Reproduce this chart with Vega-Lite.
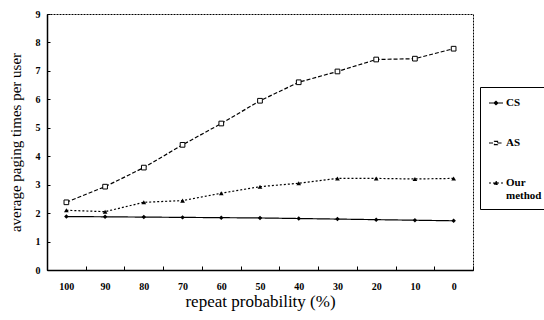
{
  "$schema": "https://vega.github.io/schema/vega-lite/v6.json",
  "width": 426,
  "height": 256,
  "autosize": "none",
  "padding": {"left": 47, "top": 14, "right": 71, "bottom": 50},
  "background": "white",
  "config": {
    "view": {"stroke": "black", "strokeDash": [2, 1], "strokeWidth": 1},
    "font": "Liberation Serif"
  },
  "data": {
    "values": [
      {"p": 100, "series": "CS", "v": 1.88},
      {"p": 90, "series": "CS", "v": 1.87},
      {"p": 80, "series": "CS", "v": 1.86},
      {"p": 70, "series": "CS", "v": 1.85},
      {"p": 60, "series": "CS", "v": 1.84},
      {"p": 50, "series": "CS", "v": 1.83},
      {"p": 40, "series": "CS", "v": 1.81},
      {"p": 30, "series": "CS", "v": 1.79},
      {"p": 20, "series": "CS", "v": 1.77},
      {"p": 10, "series": "CS", "v": 1.75},
      {"p": 0, "series": "CS", "v": 1.73},
      {"p": 100, "series": "AS", "v": 2.38},
      {"p": 90, "series": "AS", "v": 2.93},
      {"p": 80, "series": "AS", "v": 3.6},
      {"p": 70, "series": "AS", "v": 4.4},
      {"p": 60, "series": "AS", "v": 5.15},
      {"p": 50, "series": "AS", "v": 5.95},
      {"p": 40, "series": "AS", "v": 6.6},
      {"p": 30, "series": "AS", "v": 6.98},
      {"p": 20, "series": "AS", "v": 7.4},
      {"p": 10, "series": "AS", "v": 7.43},
      {"p": 0, "series": "AS", "v": 7.78},
      {"p": 100, "series": "Our method", "v": 2.1},
      {"p": 90, "series": "Our method", "v": 2.05},
      {"p": 80, "series": "Our method", "v": 2.38},
      {"p": 70, "series": "Our method", "v": 2.44},
      {"p": 60, "series": "Our method", "v": 2.7},
      {"p": 50, "series": "Our method", "v": 2.93},
      {"p": 40, "series": "Our method", "v": 3.05},
      {"p": 30, "series": "Our method", "v": 3.22},
      {"p": 20, "series": "Our method", "v": 3.22},
      {"p": 10, "series": "Our method", "v": 3.2},
      {"p": 0, "series": "Our method", "v": 3.22}
    ]
  },
  "encoding": {
    "x": {
      "field": "p",
      "type": "ordinal",
      "sort": "descending",
      "scale": {"type": "band", "paddingInner": 0, "paddingOuter": 0},
      "bandPosition": 0.5,
      "axis": {
        "title": "repeat probability (%)",
        "titleFont": "Liberation Serif",
        "titleFontSize": 17,
        "titleFontWeight": "normal",
        "titleColor": "black",
        "titlePadding": 2,
        "labelAngle": 0,
        "labelFont": "Liberation Serif",
        "labelFontWeight": "bold",
        "labelFontSize": 10,
        "labelColor": "black",
        "labelPadding": 15,
        "tickBand": "extent",
        "ticks": true,
        "tickSize": -4,
        "tickColor": "black",
        "domainColor": "black",
        "domainWidth": 1.5,
        "grid": false
      }
    },
    "y": {
      "field": "v",
      "type": "quantitative",
      "scale": {"domain": [0, 9], "nice": false},
      "axis": {
        "title": "average paging times per user",
        "titleFont": "Liberation Serif",
        "titleFontSize": 15,
        "titleFontWeight": "normal",
        "titleColor": "black",
        "titlePadding": 12,
        "values": [0, 1, 2, 3, 4, 5, 6, 7, 8, 9],
        "labelFont": "Liberation Serif",
        "labelFontWeight": "bold",
        "labelFontSize": 10,
        "labelColor": "black",
        "labelPadding": 10,
        "tickSize": -3,
        "tickColor": "black",
        "domainColor": "black",
        "domainWidth": 1.5,
        "grid": false
      }
    }
  },
  "layer": [
    {
      "mark": {"type": "line", "color": "black", "strokeWidth": 1.2},
      "encoding": {
        "strokeDash": {
          "field": "series",
          "type": "nominal",
          "scale": {"domain": ["CS", "AS", "Our method"], "range": [[1, 0], [4, 2], [2, 2]]},
          "legend": {
            "title": null,
            "orient": "none",
            "legendX": 433,
            "legendY": 73,
            "direction": "vertical",
            "strokeColor": "black",
            "fillColor": "white",
            "padding": 8,
            "rowPadding": 27,
            "symbolSize": 196,
            "symbolStrokeColor": "black",
            "symbolStrokeWidth": 1.2,
            "labelFont": "Liberation Serif",
            "labelFontWeight": "bold",
            "labelFontSize": 11,
            "labelColor": "black",
            "labelOffset": 2,
            "labelExpr": "datum.label == 'Our method' ? ['Our', 'method'] : datum.label",
            "encode": {
              "symbols": {
                "update": {
                  "shape": {"signal": "datum.value == 'CS' ? 'M-1,0H1M-0.25,0L0,-0.25L0.25,0L0,0.25Z' : datum.value == 'AS' ? 'M-1,0H-0.22M0.22,0H1M-0.22,-0.22H0.22V0.22H-0.22Z' : 'M-1,0H1M-0.27,0.2L0,-0.27L0.27,0.2Z'"},
                  "size": {"value": 196},
                  "fill": {"signal": "datum.value == 'AS' ? 'white' : 'black'"},
                  "stroke": {"value": "black"},
                  "strokeWidth": {"value": 1.2},
                  "strokeDash": {"value": [1, 0]},
                  "opacity": {"value": 1}
                }
              }
            }
          }
        }
      }
    },
    {
      "transform": [{"filter": "datum.series == 'CS'"}],
      "mark": {"type": "point", "shape": "diamond", "filled": true, "color": "black", "size": 20, "opacity": 1}
    },
    {
      "transform": [{"filter": "datum.series == 'AS'"}],
      "mark": {"type": "point", "shape": "square", "fill": "white", "stroke": "black", "strokeWidth": 1, "size": 22, "opacity": 1}
    },
    {
      "transform": [{"filter": "datum.series == 'Our method'"}],
      "mark": {"type": "point", "shape": "triangle-up", "filled": true, "color": "black", "size": 22, "opacity": 1}
    }
  ]
}
